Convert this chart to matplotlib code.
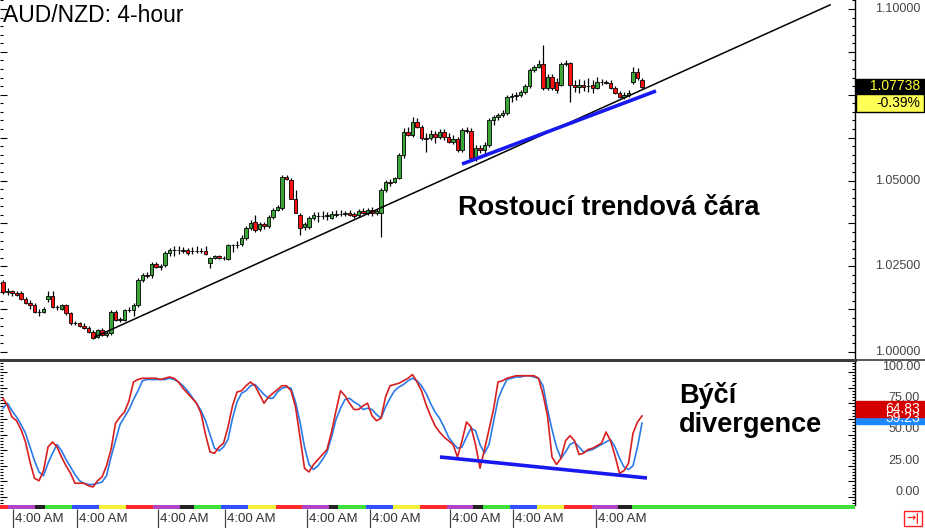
import numpy as np
import matplotlib.pyplot as plt
import matplotlib.transforms as mtransforms
from matplotlib.patches import Rectangle
from matplotlib.lines import Line2D
from matplotlib.ticker import MultipleLocator

plt.rcParams['font.family'] = ['Liberation Sans', 'DejaVu Sans']

# 4-hour candles AUD/NZD
opens = [1.0204, 1.0175, 1.0178, 1.0172, 1.0172, 1.0155, 1.0143, 1.0137, 1.0117, 1.0117,
         1.0155, 1.0163, 1.0131, 1.0126, 1.0137, 1.0114, 1.0085, 1.0085, 1.0076, 1.0070,
         1.0058, 1.0044, 1.0064, 1.0050, 1.0056, 1.0117, 1.0093, 1.0093, 1.0123, 1.0123,
         1.0137, 1.0210, 1.0225, 1.0225, 1.0257, 1.0248, 1.0254, 1.0289, 1.0297, 1.0297,
         1.0297, 1.0297, 1.0295, 1.0295, 1.0295, 1.0295, 1.0260, 1.0274, 1.0280, 1.0274,
         1.0271, 1.0312, 1.0312, 1.0315, 1.0332, 1.0362, 1.0379, 1.0359, 1.0373, 1.0367,
         1.0394, 1.0414, 1.0420, 1.0510, 1.0501, 1.0446, 1.0400, 1.0364, 1.0364, 1.0391,
         1.0397, 1.0397, 1.0397, 1.0391, 1.0400, 1.0402, 1.0402, 1.0405, 1.0402, 1.0400,
         1.0411, 1.0405, 1.0414, 1.0405, 1.0405, 1.0472, 1.0496, 1.0496, 1.0507, 1.0574,
         1.0641, 1.0633, 1.0671, 1.0656, 1.0624, 1.0624, 1.0636, 1.0627, 1.0641, 1.0627,
         1.0612, 1.0621, 1.0589, 1.0647, 1.0644, 1.0566, 1.0595, 1.0589, 1.0604, 1.0676,
         1.0685, 1.0691, 1.0697, 1.0743, 1.0746, 1.0749, 1.0758, 1.0775, 1.0822, 1.0831,
         1.0840, 1.0770, 1.0802, 1.0787, 1.0778, 1.0840, 1.0843, 1.0778, 1.0773, 1.0778,
         1.0775, 1.0778, 1.0770, 1.0787, 1.0787, 1.0784, 1.0770, 1.0755, 1.0743, 1.0749,
         1.0787, 1.0816, 1.0793]
highs = [1.0210, 1.0187, 1.0181, 1.0178, 1.0178, 1.0160, 1.0152, 1.0143, 1.0126, 1.0131,
         1.0178, 1.0178, 1.0137, 1.0140, 1.0140, 1.0117, 1.0090, 1.0088, 1.0085, 1.0076,
         1.0064, 1.0067, 1.0070, 1.0061, 1.0123, 1.0123, 1.0102, 1.0126, 1.0131, 1.0143,
         1.0216, 1.0230, 1.0233, 1.0262, 1.0262, 1.0257, 1.0295, 1.0303, 1.0309, 1.0309,
         1.0306, 1.0303, 1.0306, 1.0309, 1.0303, 1.0309, 1.0277, 1.0283, 1.0283, 1.0280,
         1.0315, 1.0315, 1.0324, 1.0341, 1.0367, 1.0385, 1.0400, 1.0379, 1.0379, 1.0400,
         1.0420, 1.0429, 1.0516, 1.0516, 1.0507, 1.0472, 1.0405, 1.0379, 1.0397, 1.0408,
         1.0408, 1.0411, 1.0408, 1.0411, 1.0414, 1.0414, 1.0411, 1.0414, 1.0408, 1.0417,
         1.0420, 1.0420, 1.0423, 1.0417, 1.0478, 1.0501, 1.0504, 1.0510, 1.0580, 1.0653,
         1.0656, 1.0685, 1.0682, 1.0662, 1.0639, 1.0647, 1.0644, 1.0650, 1.0650, 1.0639,
         1.0633, 1.0627, 1.0653, 1.0656, 1.0653, 1.0604, 1.0604, 1.0612, 1.0682, 1.0691,
         1.0697, 1.0706, 1.0749, 1.0755, 1.0758, 1.0764, 1.0781, 1.0828, 1.0837, 1.0851,
         1.0895, 1.0810, 1.0810, 1.0799, 1.0846, 1.0851, 1.0846, 1.0793, 1.0796, 1.0793,
         1.0799, 1.0793, 1.0802, 1.0796, 1.0793, 1.0793, 1.0775, 1.0761, 1.0758, 1.0764,
         1.0831, 1.0828, 1.0799]
lows = [1.0169, 1.0166, 1.0163, 1.0163, 1.0152, 1.0140, 1.0126, 1.0114, 1.0105, 1.0114,
        1.0146, 1.0128, 1.0123, 1.0123, 1.0108, 1.0079, 1.0079, 1.0073, 1.0067, 1.0056,
        1.0038, 1.0041, 1.0047, 1.0044, 1.0050, 1.0090, 1.0088, 1.0090, 1.0117, 1.0105,
        1.0131, 1.0204, 1.0216, 1.0216, 1.0245, 1.0239, 1.0248, 1.0280, 1.0280, 1.0286,
        1.0289, 1.0283, 1.0286, 1.0289, 1.0289, 1.0283, 1.0245, 1.0271, 1.0271, 1.0268,
        1.0268, 1.0292, 1.0303, 1.0309, 1.0327, 1.0356, 1.0350, 1.0353, 1.0359, 1.0362,
        1.0388, 1.0411, 1.0414, 1.0501, 1.0446, 1.0405, 1.0341, 1.0356, 1.0359, 1.0385,
        1.0379, 1.0388, 1.0385, 1.0388, 1.0394, 1.0397, 1.0397, 1.0397, 1.0391, 1.0394,
        1.0402, 1.0400, 1.0397, 1.0400, 1.0335, 1.0467, 1.0484, 1.0493, 1.0504, 1.0566,
        1.0630, 1.0627, 1.0653, 1.0618, 1.0583, 1.0618, 1.0609, 1.0621, 1.0618, 1.0609,
        1.0606, 1.0583, 1.0583, 1.0639, 1.0560, 1.0557, 1.0580, 1.0574, 1.0598, 1.0662,
        1.0676, 1.0685, 1.0691, 1.0729, 1.0735, 1.0743, 1.0752, 1.0770, 1.0816, 1.0828,
        1.0764, 1.0764, 1.0764, 1.0755, 1.0775, 1.0834, 1.0729, 1.0758, 1.0755, 1.0761,
        1.0758, 1.0755, 1.0767, 1.0778, 1.0781, 1.0767, 1.0752, 1.0740, 1.0738, 1.0743,
        1.0781, 1.0793, 1.0767]
closes = [1.0175, 1.0178, 1.0172, 1.0166, 1.0155, 1.0143, 1.0137, 1.0117, 1.0117, 1.0126,
          1.0163, 1.0131, 1.0131, 1.0137, 1.0114, 1.0085, 1.0085, 1.0076, 1.0070, 1.0058,
          1.0041, 1.0064, 1.0050, 1.0056, 1.0117, 1.0093, 1.0096, 1.0123, 1.0123, 1.0137,
          1.0210, 1.0225, 1.0222, 1.0257, 1.0248, 1.0251, 1.0289, 1.0297, 1.0297, 1.0297,
          1.0295, 1.0289, 1.0295, 1.0295, 1.0295, 1.0286, 1.0274, 1.0280, 1.0274, 1.0274,
          1.0312, 1.0312, 1.0312, 1.0332, 1.0362, 1.0376, 1.0356, 1.0373, 1.0367, 1.0394,
          1.0414, 1.0423, 1.0510, 1.0504, 1.0446, 1.0405, 1.0362, 1.0373, 1.0391, 1.0400,
          1.0397, 1.0397, 1.0400, 1.0402, 1.0402, 1.0402, 1.0405, 1.0400, 1.0397, 1.0411,
          1.0405, 1.0414, 1.0405, 1.0411, 1.0472, 1.0496, 1.0493, 1.0507, 1.0574, 1.0641,
          1.0633, 1.0671, 1.0656, 1.0624, 1.0621, 1.0636, 1.0627, 1.0641, 1.0627, 1.0612,
          1.0621, 1.0589, 1.0647, 1.0644, 1.0566, 1.0595, 1.0589, 1.0604, 1.0676, 1.0685,
          1.0691, 1.0697, 1.0743, 1.0746, 1.0749, 1.0758, 1.0775, 1.0822, 1.0831, 1.0840,
          1.0770, 1.0802, 1.0770, 1.0764, 1.0840, 1.0843, 1.0778, 1.0773, 1.0778, 1.0773,
          1.0775, 1.0770, 1.0787, 1.0787, 1.0784, 1.0770, 1.0755, 1.0743, 1.0749, 1.0755,
          1.0816, 1.0799, 1.07738]

# stochastic %K (red) and %D (blue)
stoch_k = [79, 73, 64, 61, 54, 44, 28, 15, 13, 21,
           40, 44, 40, 32, 25, 19, 11, 11, 11, 9,
           8, 13, 16, 25, 38, 59, 64, 68, 77, 92,
           94, 95, 95, 95, 95, 94, 95, 96, 95, 92,
           87, 83, 79, 75, 67, 50, 36, 35, 40, 43,
           56, 73, 84, 85, 89, 92, 89, 82, 75, 80,
           83, 86, 89, 89, 85, 72, 48, 23, 20, 26,
           30, 34, 38, 52, 69, 85, 81, 75, 70, 70,
           73, 75, 65, 61, 63, 80, 89, 90, 91, 93,
           95, 98, 92, 85, 74, 65, 57, 52, 48, 45,
           42, 32, 45, 60, 56, 42, 23, 38, 54, 70,
           92, 93, 95, 96, 97, 97, 97, 97, 97, 95,
           82, 65, 32, 26, 31, 45, 49, 45, 34, 35,
           38, 39, 41, 43, 52, 45, 33, 19, 21, 27,
           51, 60, 64.83]
stoch_d = [71, 75, 69, 64, 58, 51, 40, 29, 20, 17,
           27, 35, 42, 37, 30, 24, 18, 13, 11, 10,
           10, 11, 12, 17, 32, 45, 58, 64, 70, 78,
           85, 93, 94, 94, 94, 94, 94, 95, 94, 92,
           89, 85, 80, 75, 69, 61, 50, 39, 37, 40,
           46, 63, 76, 83, 85, 89, 90, 86, 82, 79,
           79, 84, 87, 88, 87, 76, 60, 40, 26, 22,
           25, 30, 36, 48, 62, 71, 78, 79, 76, 74,
           70, 71, 70, 66, 63, 72, 79, 85, 88, 90,
           93, 95, 93, 89, 83, 75, 68, 63, 56, 48,
           43, 39, 40, 48, 55, 53, 42, 35, 42, 60,
           78, 87, 94, 95, 96, 96, 97, 97, 96, 95,
           89, 70, 54, 40, 31, 36, 42, 44, 40, 36,
           37, 38, 40, 42, 44, 46, 40, 31, 24, 22,
           25, 40, 59.23]

# trend lines (candle index, value)
trend_x = [20.4, 183.8]
trend_y = [1.0044, 1.1012]
support_x = [102.0, 145.1]
support_y = [1.0548, 1.0761]
div_x = [97.1, 143.1]
div_y = [32.0, 15.2]

change_pct = -0.39
price_labels = [1.0, 1.025, 1.05, 1.10]   # 1.075 sits under the price box
stoch_labels = [0, 25, 50, 75, 100]
time_ticks = [2.2, 16.4, 34.4, 49.3, 67.6, 81.6, 99.3, 113.3, 131.8]
day_edges = [-0.67, 1.1, 7.1, 9.3, 15.3, 21.3, 27.3, 33.3, 39.3, 42.4, 48.4, 54.4, 60.7,
             66.4, 72.4, 74.4, 80.7, 86.7, 92.7, 98.7, 104.4, 106.7, 112.7, 118.7, 124.7,
             130.9, 136.7, 139.8, 189.33]
day_colors = ['#ff2a2a', '#b044c4', '#222222', '#3ee03e', '#3350ff', '#f2f23a'] * 5

W, H = 925, 528
fig = plt.figure(figsize=(W / 100, H / 100), dpi=100)


def px_rect(x0, y0, x1, y1):
    return [x0 / W, 1 - y1 / H, (x1 - x0) / W, (y1 - y0) / H]


ax = fig.add_axes(px_rect(0, 0, 855, 360))
ax_st = fig.add_axes(px_rect(0, 362, 855, 505))
ax_bar = fig.add_axes(px_rect(0, 505, 855, 509))
xmin, xmax = -0.67, 189.33

o = np.array(opens)
h = np.array(highs)
l = np.array(lows)
c = np.array(closes)
x = np.arange(len(c))
up = c >= o
ax.vlines(x, l, h, color='black', lw=0.9, zorder=2)
ax.bar(x, np.abs(c - o), bottom=np.minimum(o, c), width=0.8,
       color=np.where(up, '#3aa63a', '#ff1010'), edgecolor='black', lw=0.6, zorder=3)
ax.plot(trend_x, trend_y, color='black', lw=1.1, zorder=4)
ax.plot(support_x, support_y, color='#1818f0', lw=2.6, zorder=5, solid_capstyle='butt')
ax.set_xlim(xmin, xmax)
ax.set_ylim(0.99768, 1.10262)

ax_st.plot(x, stoch_d, color='#2a7be8', lw=1.2)
ax_st.plot(x, stoch_k, color='#d81e1e', lw=1.2)
ax_st.plot(div_x, div_y, color='#1818f0', lw=2.6, solid_capstyle='butt')
ax_st.set_xlim(xmin, xmax)
ax_st.set_ylim(-6.4, 108)

for a in (ax, ax_st):
    a.set_xticks([])
    for s in ('top', 'left', 'bottom'):
        a.spines[s].set_visible(False)
    a.spines['right'].set_linewidth(1.0)
    a.tick_params(axis='y', which='both', left=True, right=True, direction='in',
                  labelleft=False, labelright=False, width=0.8, color='black')
    a.tick_params(axis='y', which='major', length=5)
    a.tick_params(axis='y', which='minor', length=2.5)
ax.spines['bottom'].set_visible(True)
ax.spines['bottom'].set_color('#3c3c3c')
ax.spines['bottom'].set_linewidth(2.2)
ax.yaxis.set_major_locator(MultipleLocator(0.0125))
ax.yaxis.set_minor_locator(MultipleLocator(0.0025))
ax_st.yaxis.set_major_locator(MultipleLocator(12.5))
ax_st.yaxis.set_minor_locator(MultipleLocator(2.5))

# right-hand value labels
tr_price = mtransforms.blended_transform_factory(fig.transFigure, ax.transData)
for v in price_labels:
    ax.text(920 / W, v, f'{v:.5f}', transform=tr_price, ha='right', va='center',
            fontsize=9, color='#444444', clip_on=False)
tr_st = mtransforms.offset_copy(
    mtransforms.blended_transform_factory(fig.transFigure, ax_st.transData), fig=fig, y=5, units='dots')
for v in stoch_labels:
    ax_st.text(920 / W, v, f'{v:.2f}', transform=tr_st, ha='right', va='center',
               fontsize=9, color='#444444', clip_on=False)

# day colour strip and time axis
for i in range(len(day_edges) - 1):
    ax_bar.axvspan(day_edges[i], day_edges[i + 1], color=day_colors[i], lw=0)
ax_bar.set_xlim(xmin, xmax)
ax_bar.set_ylim(0, 1)
for s in ax_bar.spines.values():
    s.set_visible(False)
ax_bar.set_yticks([])
ax_bar.set_xticks(time_ticks)
ax_bar.tick_params(axis='x', direction='out', length=14, width=0.9, color='#444444', labelbottom=False)
tr_time = mtransforms.blended_transform_factory(ax_bar.transData, ax_bar.transAxes)
for t in time_ticks:
    ax_bar.text(t + 0.45, -2.5, '4:00 AM', transform=tr_time, ha='left', va='center',
                fontsize=9.5, color='#333333', clip_on=False)


def fig_box(x0, y0, x1, y1, fc, ec):
    fig.add_artist(Rectangle((x0 / W, 1 - y1 / H), (x1 - x0) / W, (y1 - y0) / H,
                             transform=fig.transFigure, facecolor=fc, edgecolor=ec, lw=1, zorder=10))


fig_box(856, 79, 925, 94, 'black', 'black')
fig.text(920 / W, 1 - 86.5 / H, f'{closes[-1]:.5f}', ha='right', va='center', fontsize=10,
         color='#ffff33', zorder=11)
fig_box(856, 94, 924, 112, '#ffff55', 'black')
fig.text(920 / W, 1 - 103 / H, f'{change_pct:.2f}%', ha='right', va='center', fontsize=10,
         color='black', zorder=11)
fig_box(856, 410, 925, 424, '#1e88ff', '#1e88ff')
fig.text(920 / W, 1 - 418 / H, f'{stoch_d[-1]:.2f}', ha='right', va='center', fontsize=10,
         color='white', zorder=11)
fig_box(856, 401, 925, 417, '#d40000', '#d40000')
fig.text(920 / W, 1 - 409 / H, f'{stoch_k[-1]:.2f}', ha='right', va='center', fontsize=10,
         color='white', zorder=12)
fig.add_artist(Line2D([855 / W, 925 / W], [1 - 360 / H] * 2, color='#3c3c3c', lw=1.2))

# scroll button
fig_box(904, 511, 922, 526, 'white', '#ff2020')
fig.text(913 / W, 1 - 518.5 / H, '→|', ha='center', va='center', fontsize=8, fontweight='bold',
         color='#ff2020', zorder=11, family=['DejaVu Sans'])

fig.text(3 / W, 1 - 15 / H, 'AUD/NZD: 4-hour', fontsize=16.5, ha='left', va='center')
fig.text(458 / W, 1 - 208 / H, 'Rostoucí trendová čára', fontsize=19.5, fontweight='bold',
         ha='left', va='center')
fig.text(679 / W, 1 - 410 / H, 'Býčí\ndivergence', fontsize=19.5, fontweight='bold',
         ha='left', va='center', linespacing=1.15)

plt.savefig('out.png', dpi=100)
